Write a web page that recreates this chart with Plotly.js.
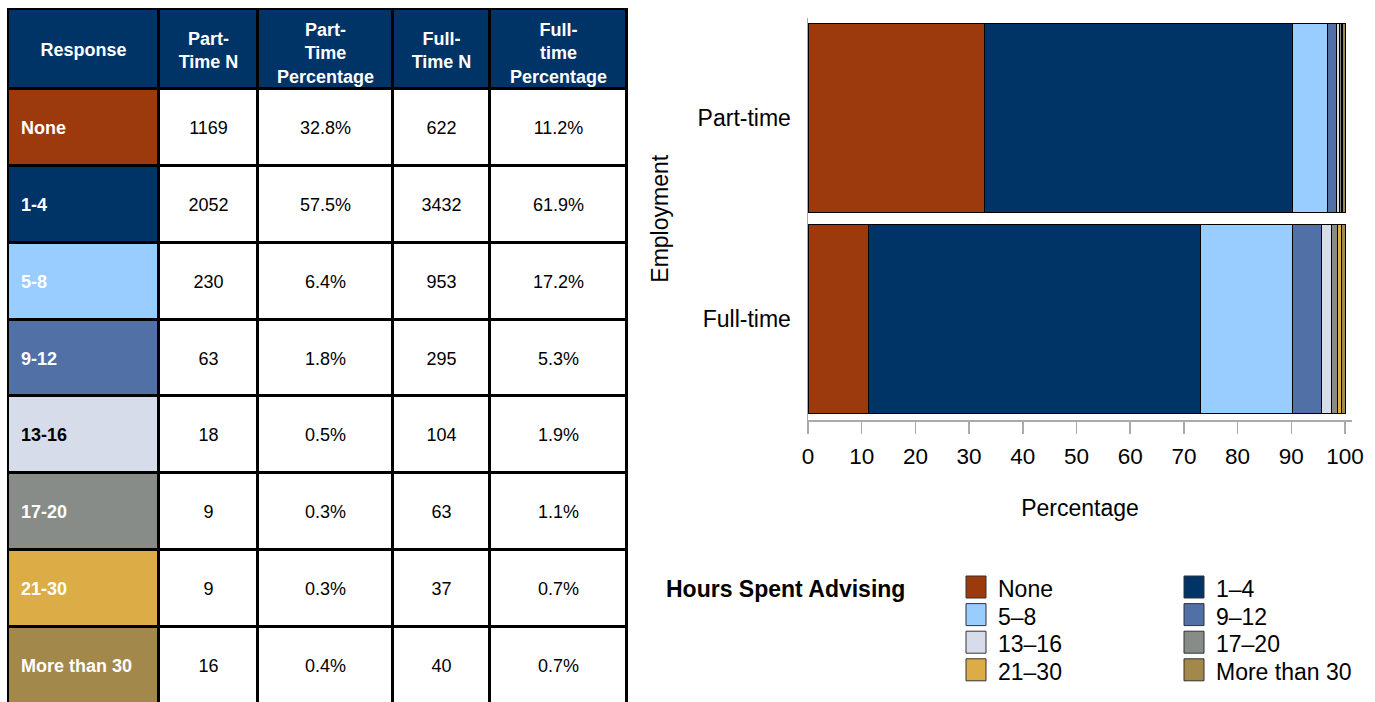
<!DOCTYPE html>
<html>
<head>
<meta charset="utf-8">
<script src="https://cdn.plot.ly/plotly-3.0.1.min.js"></script>
<style>
  html, body { margin: 0; padding: 0; background: #ffffff; }
  #chart { width: 1375px; height: 702px; }
</style>
</head>
<body>
<div id="chart"></div>
<script>
// ---------------- data ----------------
const responses = ['None', '1-4', '5-8', '9-12', '13-16', '17-20', '21-30', 'More than 30'];
const partTimeN = [1169, 2052, 230, 63, 18, 9, 9, 16];
const partTimePct = [32.8, 57.5, 6.4, 1.8, 0.5, 0.3, 0.3, 0.4];
const fullTimeN = [622, 3432, 953, 295, 104, 63, 37, 40];
const fullTimePct = [11.2, 61.9, 17.2, 5.3, 1.9, 1.1, 0.7, 0.7];
const tableHeaders = ['Response', 'Part-<br>Time N', 'Part-<br>Time<br>Percentage', 'Full-<br>Time N', 'Full-<br>time<br>Percentage'];
const employment = ['Part-time', 'Full-time'];
const legendTitle = 'Hours Spent Advising';

// ---------------- styles ----------------
const palette = ['#9C3A0E', '#003366', '#99CCFF', '#5070A6', '#D6DCEA', '#878C88', '#DCAC47', '#A3884B'];
const headerColor = '#003366';
const FONT = 'Liberation Sans, Arial, Helvetica, sans-serif';
const W = 1375, H = 702;
const px = v => v / W;
const py = v => 1 - v / H;
const ROWPX = 76.9; // pixels per table row unit

// ---------------- bar chart ----------------
const traces = [];
responses.forEach((r, i) => {
  traces.push({
    type: 'bar',
    orientation: 'h',
    name: r.replace('-', '\u2013'),
    y: employment,
    x: [partTimePct[i], fullTimePct[i]],
    marker: { color: palette[i], line: { color: '#000000', width: 1 } },
    xaxis: 'x', yaxis: 'y',
    showlegend: false,
    hovertemplate: '%{y}: %{x}%<extra>' + r + '</extra>'
  });
});

// ---------------- table (heatmap cells + text) ----------------
const colWidths = [151, 99, 135, 97, 137];
const xEdges = [1];
colWidths.forEach(w => xEdges.push(xEdges[xEdges.length - 1] + w));
const colCenters = colWidths.map((w, j) => (xEdges[j] + xEdges[j + 1]) / 2);
const yEdges = [-1.54];
for (let i = 0; i <= responses.length; i++) yEdges.push(i - 0.5);
const headerY = (yEdges[0] + yEdges[1]) / 2;

// colour index matrix: 0 header, 1..8 category, 9 white
const z = [];
z.push(tableHeaders.map(() => 0));
responses.forEach((r, i) => z.push([i + 1, 9, 9, 9, 9]));
const cellColors = [headerColor].concat(palette).concat(['#FFFFFF']);
const colorscale = cellColors.map((c, k) => [k / (cellColors.length - 1), c]);

traces.push({
  type: 'heatmap',
  x: xEdges,
  y: yEdges,
  z: z,
  zmin: 0, zmax: cellColors.length - 1,
  colorscale: colorscale,
  showscale: false,
  xgap: 3, ygap: 3,
  hoverinfo: 'skip',
  xaxis: 'x2', yaxis: 'y2'
});

// header text
traces.push({
  type: 'scatter', mode: 'text',
  x: colCenters,
  y: tableHeaders.map(h => {
    const lines = h.split('<br>').length;
    return headerY + (lines >= 3 ? 6 : 3) / ROWPX;
  }),
  text: tableHeaders.map(h => '<b>' + h + '</b>'),
  textposition: 'middle center',
  textfont: { family: FONT, size: 18, color: '#FFFFFF' },
  hoverinfo: 'skip', showlegend: false,
  xaxis: 'x2', yaxis: 'y2', cliponaxis: false
});

const bodyShift = 2 / ROWPX;

// response labels (first column)
traces.push({
  type: 'scatter', mode: 'text',
  x: responses.map(() => xEdges[0] + 13),
  y: responses.map((r, i) => i + bodyShift),
  text: responses.map(r => '<b>' + r + '</b>'),
  textposition: 'middle right',
  textfont: { family: FONT, size: 18, color: responses.map((r, i) => i === 4 ? '#000000' : '#FFFFFF') },
  hoverinfo: 'skip', showlegend: false,
  xaxis: 'x2', yaxis: 'y2', cliponaxis: false
});

// value cells
const valueCols = [
  partTimeN.map(String),
  partTimePct.map(v => v.toFixed(1) + '%'),
  fullTimeN.map(String),
  fullTimePct.map(v => v.toFixed(1) + '%')
];
valueCols.forEach((col, j) => {
  traces.push({
    type: 'scatter', mode: 'text',
    x: col.map(() => colCenters[j + 1]),
    y: col.map((v, i) => i + bodyShift),
    text: col,
    textposition: 'middle center',
    textfont: { family: FONT, size: 18, color: '#000000' },
    hoverinfo: 'skip', showlegend: false,
    xaxis: 'x2', yaxis: 'y2', cliponaxis: false
  });
});

// ---------------- legend (custom) ----------------
const shapes = [{
  type: 'rect', xref: 'x2', yref: 'y2', layer: 'below',
  x0: 0, x1: xEdges[xEdges.length - 1] + 1, y0: -1.555, y1: 7.6,
  fillcolor: '#000000', line: { width: 0 }
}];
const annotations = [{
  xref: 'paper', yref: 'paper', x: px(664), y: py(589),
  xanchor: 'left', yanchor: 'middle', showarrow: false,
  text: '<b>' + legendTitle + '</b>',
  font: { family: FONT, size: 23, color: '#000000' }
}];
responses.forEach((r, i) => {
  const col = i % 2, row = Math.floor(i / 2);
  const sx = 966 + col * 218;
  const cy = 587 + row * 27.6;
  shapes.push({
    type: 'rect', xref: 'paper', yref: 'paper',
    x0: px(sx), x1: px(sx + 20), y0: py(cy + 11), y1: py(cy - 11),
    fillcolor: palette[i], line: { color: '#333333', width: 1 }
  });
  annotations.push({
    xref: 'paper', yref: 'paper', x: px(sx + 30), y: py(cy + 2),
    xanchor: 'left', yanchor: 'middle', showarrow: false,
    text: r.replace('-', '\u2013'),
    font: { family: FONT, size: 23, color: '#000000' }
  });
});

const layout = {
  width: W, height: H,
  margin: { l: 0, r: 0, t: 0, b: 0 },
  paper_bgcolor: '#FFFFFF', plot_bgcolor: '#FFFFFF',
  font: { family: FONT, size: 23, color: '#000000' },
  barmode: 'stack',
  bargap: 0.06,
  showlegend: false,
  xaxis: {
    domain: [px(808), px(1352)],
    range: [0, 101.3],
    tick0: 0, dtick: 10,
    ticks: 'outside', ticklen: 12, tickcolor: '#AAAAAA', tickwidth: 1.5,
    ticklabelstandoff: 3,
    showline: true, linecolor: '#AAAAAA', linewidth: 1.5,
    showgrid: false, zeroline: false,
    tickfont: { family: FONT, size: 22.5, color: '#000000' },
    title: { text: 'Percentage', font: { family: FONT, size: 23, color: '#000000' }, standoff: 32 },
    fixedrange: true
  },
  yaxis: {
    domain: [py(420), py(17.5)],
    type: 'category',
    categoryorder: 'array', categoryarray: employment,
    autorange: 'reversed',
    ticks: '', ticklabelstandoff: 11,
    showline: true, linecolor: '#AAAAAA', linewidth: 1.5,
    showgrid: false, zeroline: false,
    tickfont: { family: FONT, size: 23, color: '#000000' },
    title: { text: 'Employment', font: { family: FONT, size: 23, color: '#000000' }, standoff: 22 },
    fixedrange: true
  },
  xaxis2: {
    domain: [px(7), px(628)],
    range: [0, 621],
    visible: false, fixedrange: true
  },
  yaxis2: {
    domain: [0, py(8)],
    range: [7.474, -1.553],
    visible: false, fixedrange: true
  },
  shapes: shapes,
  annotations: annotations
};

Plotly.newPlot('chart', traces, layout, { displayModeBar: false, staticPlot: true });
</script>
</body>
</html>
